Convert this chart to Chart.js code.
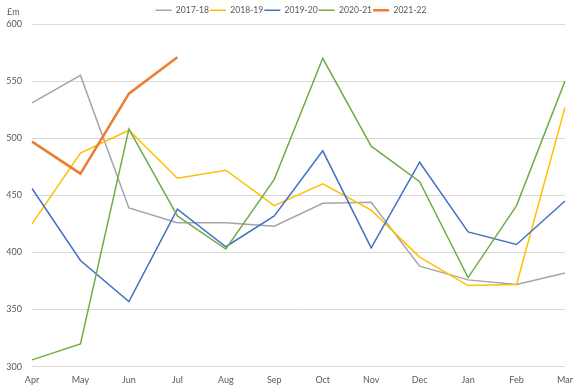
<!DOCTYPE html>
<html>
<head>
<meta charset="utf-8">
<script src="https://cdn.jsdelivr.net/npm/chart.js@4/dist/chart.umd.min.js"></script>
<style>
html,body{margin:0;padding:0;background:#fff;}
#wrap{position:relative;width:584px;height:389px;}
</style>
</head>
<body>
<div id="wrap"><canvas id="c" width="584" height="389"></canvas></div>
<script>
const months = ['Apr','May','Jun','Jul','Aug','Sep','Oct','Nov','Dec','Jan','Feb','Mar'];
const seriesNames = ['2017-18','2018-19','2019-20','2020-21','2021-22'];
const v2017 = [531, 555, 439, 426, 426, 423, 443, 444, 388, 376, 372, 382];
const v2018 = [425, 487, 507, 465, 472, 441, 460, 437, 396, 371, 372, 527];
const v2019 = [456, 393, 357, 438, 405, 432, 489, 404, 479, 418, 407, 445];
const v2020 = [306, 320, 508, 432, 403, 464, 570, 493, 462, 378, 441, 550];
const v2021 = [497, 469, 539, 571];
const yTicks = [300, 350, 400, 450, 500, 550, 600];
const unitLabel = '£m';

const colors = ['#A5A5A5','#FFC000','#4472C4','#70AD47','#ED7D31'];
const widths = [1.5,1.5,1.5,1.5,2.5];
const values = [v2017, v2018, v2019, v2020, v2021];
const FONT = 'Lato, "Open Sans", sans-serif';
const TXT = '#595959';

const unitPlugin = {
  id: 'unit',
  beforeLayout(chart) {
    const lg = chart.legend;
    if (lg && !lg._patched) {
      const f = lg.fit.bind(lg);
      lg.fit = function () { f(); this.height = 19; };
      lg._patched = true;
    }
  },
  afterLayout(chart) {
    const lg = chart.legend;
    if (lg) { lg.left += 8.5; lg.right += 8.5; }
  },
  afterDraw(chart) {
    const ctx = chart.ctx;
    ctx.save();
    ctx.font = '9px ' + FONT;
    ctx.fillStyle = TXT;
    ctx.textAlign = 'left';
    ctx.textBaseline = 'middle';
    ctx.fillText(unitLabel, 7, 12);
    ctx.restore();
  }
};

new Chart(document.getElementById('c'), {
  type: 'line',
  data: {
    labels: months,
    datasets: seriesNames.map((n, i) => ({
      label: n,
      data: values[i],
      borderColor: colors[i],
      backgroundColor: colors[i],
      borderWidth: widths[i],
      pointRadius: 0,
      pointHoverRadius: 0,
      tension: 0,
      fill: false,
      order: 4 - i
    }))
  },
  options: {
    responsive: false,
    animation: false,
    layout: { padding: { top: 5, right: 19, bottom: 0, left: 0 } },
    plugins: {
      tooltip: { enabled: false },
      legend: {
        position: 'top',
        labels: {
          usePointStyle: true,
          pointStyle: 'line',
          pointStyleWidth: 16,
          boxHeight: 6,
          padding: 1,
          color: TXT,
          font: { family: FONT, size: 8.6 },
          sort: (a, b) => a.datasetIndex - b.datasetIndex
        }
      }
    },
    scales: {
      x: {
        offset: false,
        grid: { display: false, drawTicks: false },
        border: { display: false },
        afterFit(axis) { axis.height = 22.3; },
        ticks: { color: TXT, font: { family: FONT, size: 9 }, padding: 8, maxRotation: 0, autoSkip: false }
      },
      y: {
        min: 300, max: 600,
        afterBuildTicks(axis) { axis.ticks = yTicks.map(v => ({ value: v })); },
        afterFit(axis) { axis.width = 32; },
        grid: { color: '#D9D9D9', lineWidth: 1, drawTicks: false },
        border: { display: false },
        ticks: { color: TXT, font: { family: FONT, size: 9 }, padding: 10 }
      }
    }
  },
  plugins: [unitPlugin]
});
</script>
</body>
</html>
